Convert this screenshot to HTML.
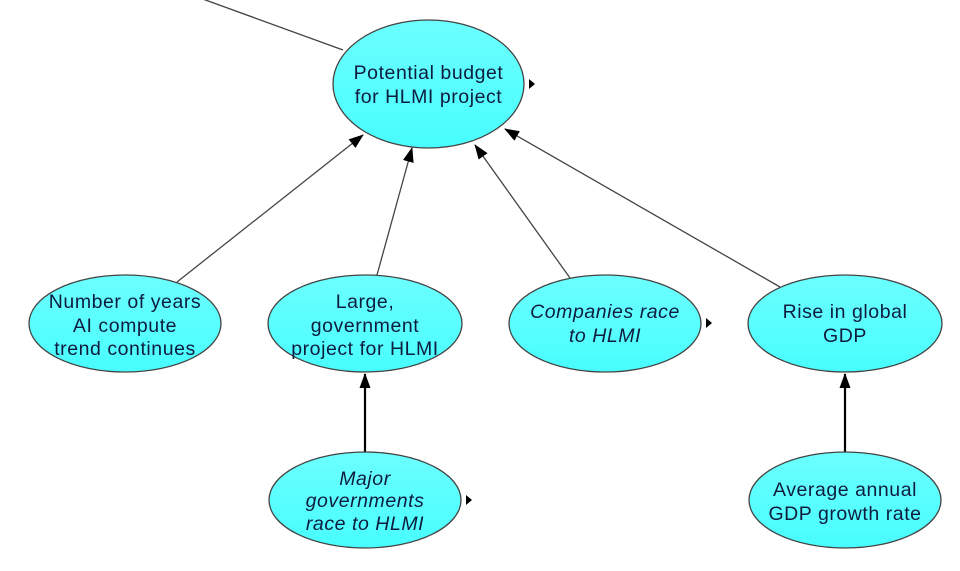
<!DOCTYPE html>
<html>
<head>
<meta charset="utf-8">
<style>
  html, body { margin: 0; padding: 0; background: #ffffff; }
  svg { display: block; }
  text { font-family: "Liberation Sans", Arial, sans-serif; font-size: 19.5px; fill: #0e1c3e; letter-spacing: 0.55px; }
  .it { font-style: italic; }
</style>
</head>
<body>
<svg width="960" height="571" viewBox="0 0 960 571" xmlns="http://www.w3.org/2000/svg">
  <defs>
    <linearGradient id="g" x1="0" y1="0" x2="0" y2="1">
      <stop offset="0" stop-color="#6cffff"/>
      <stop offset="1" stop-color="#48fdfd"/>
    </linearGradient>
    <marker id="ah" markerWidth="15" markerHeight="11" refX="14" refY="5.5" orient="auto" markerUnits="userSpaceOnUse">
      <path d="M0,0 L15,5.5 L0,11 Z" fill="#000"/>
    </marker>
  </defs>

  <!-- connectors -->
  <line x1="200" y1="-2" x2="343" y2="50" stroke="#444" stroke-width="1.3"/>
  <line x1="177" y1="282" x2="363" y2="135" stroke="#444" stroke-width="1.3" marker-end="url(#ah)"/>
  <line x1="377" y1="275" x2="412" y2="148" stroke="#444" stroke-width="1.3" marker-end="url(#ah)"/>
  <line x1="570" y1="278" x2="475" y2="145" stroke="#444" stroke-width="1.3" marker-end="url(#ah)"/>
  <line x1="780" y1="287" x2="505" y2="129" stroke="#444" stroke-width="1.3" marker-end="url(#ah)"/>
  <line x1="365" y1="452" x2="365" y2="374" stroke="#000" stroke-width="2.2" marker-end="url(#ah)"/>
  <line x1="845" y1="452" x2="845" y2="374" stroke="#000" stroke-width="2.2" marker-end="url(#ah)"/>

  <!-- nodes -->
  <ellipse cx="428.5" cy="84" rx="95.5" ry="64" fill="url(#g)" stroke="#444" stroke-width="1.3"/>
  <ellipse cx="125" cy="323.5" rx="96" ry="48.5" fill="url(#g)" stroke="#444" stroke-width="1.3"/>
  <ellipse cx="365" cy="323.5" rx="97" ry="48.5" fill="url(#g)" stroke="#444" stroke-width="1.3"/>
  <ellipse cx="605" cy="323.5" rx="96" ry="48.5" fill="url(#g)" stroke="#444" stroke-width="1.3"/>
  <ellipse cx="845" cy="323.5" rx="97" ry="48.5" fill="url(#g)" stroke="#444" stroke-width="1.3"/>
  <ellipse cx="365" cy="500" rx="96" ry="48" fill="url(#g)" stroke="#444" stroke-width="1.3"/>
  <ellipse cx="845" cy="500" rx="96" ry="48" fill="url(#g)" stroke="#444" stroke-width="1.3"/>

  <!-- small markers -->
  <path d="M529,79 L535,84 L529,89 Z" fill="#000"/>
  <path d="M706,318 L712,323 L706,328 Z" fill="#000"/>
  <path d="M466,495 L472,500 L466,505 Z" fill="#000"/>

  <!-- labels -->
  <text x="428.5" y="79" text-anchor="middle">Potential budget</text>
  <text x="428.5" y="103" text-anchor="middle">for HLMI project</text>

  <text x="125" y="308" text-anchor="middle">Number of years</text>
  <text x="125" y="332" text-anchor="middle">AI compute</text>
  <text x="125" y="355" text-anchor="middle">trend continues</text>

  <text x="365" y="308" text-anchor="middle">Large,</text>
  <text x="365" y="332" text-anchor="middle">government</text>
  <text x="365" y="355" text-anchor="middle">project for HLMI</text>

  <text class="it" x="605" y="318" text-anchor="middle">Companies race</text>
  <text class="it" x="605" y="342" text-anchor="middle">to HLMI</text>

  <text x="845" y="318" text-anchor="middle">Rise in global</text>
  <text x="845" y="342" text-anchor="middle">GDP</text>

  <text class="it" x="365" y="485" text-anchor="middle">Major</text>
  <text class="it" x="365" y="507" text-anchor="middle">governments</text>
  <text class="it" x="365" y="530" text-anchor="middle">race to HLMI</text>

  <text x="845" y="496" text-anchor="middle">Average annual</text>
  <text x="845" y="520" text-anchor="middle">GDP growth rate</text>
</svg>
</body>
</html>
